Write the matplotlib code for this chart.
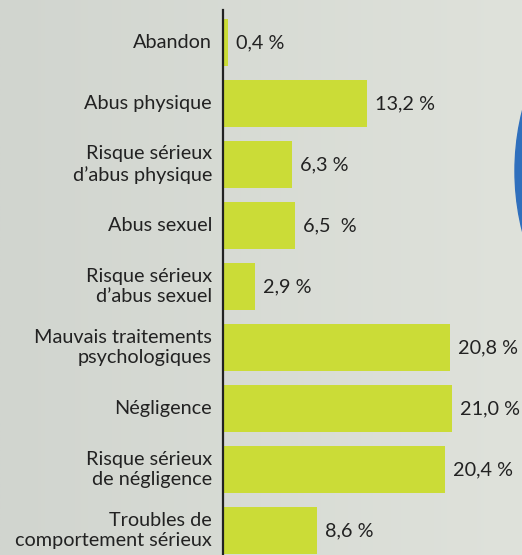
import matplotlib
matplotlib.use("Agg")
import matplotlib.pyplot as plt
import numpy as np
from matplotlib.patches import Ellipse
from matplotlib.colors import LinearSegmentedColormap

categories = ["Abandon", "Abus physique", "Risque sérieux\nd’abus physique", "Abus sexuel",
              "Risque sérieux\nd’abus sexuel", "Mauvais traitements\npsychologiques", "Négligence",
              "Risque sérieux\nde négligence", "Troubles de\ncomportement sérieux"]
values = [0.4, 13.2, 6.3, 6.5, 2.9, 20.8, 21.0, 20.4, 8.6]
value_labels = ["0,4 %", "13,2 %", "6,3 %", "6,5  %", "2,9 %", "20,8 %", "21,0 %", "20,4 %", "8,6 %"]

W, H = 522, 555
fig = plt.figure(figsize=(W / 100, H / 100), dpi=100)

# background gradient
bg = fig.add_axes([0, 0, 1, 1], zorder=-10)
gx = np.linspace(0, 1, 256)
grad = np.tile(gx, (2, 1))
cmap = LinearSegmentedColormap.from_list("bg", ["#d1d5cf", "#dfe2db"])
bg.imshow(grad, aspect="auto", cmap=cmap, extent=[0, 1, 0, 1])
bg.set_axis_off()

# blue arc at right edge
fig.patches.append(Ellipse((763 / W, 1 - 171 / H), 2 * 248 / W, 2 * 248 / H,
                           transform=fig.transFigure, color="#2f6fbd", zorder=-5))

ax = fig.add_axes([224 / W, 0, (W - 224) / W, 545 / H])
ax.patch.set_alpha(0)
y = np.arange(len(categories))
ax.barh(y, values, height=0.77, color="#cbdc37", zorder=2)
ax.set_ylim((555 - 42.5) / 61, (10 - 42.5) / 61)
ax.set_xlim(0, (W - 224) / 10.85)

for s in ["top", "right", "bottom"]:
    ax.spines[s].set_visible(False)
ax.spines["left"].set_linewidth(1.6)
ax.spines["left"].set_color("#222222")
ax.spines["left"].set_position(("outward", 1))
ax.set_xticks([])
ax.set_yticks([])

font = "Lato"
fs = 14.3
for i, (c, v, lab) in enumerate(zip(categories, values, value_labels)):
    ax.annotate(c, xy=(0, i), xycoords="data", xytext=(-12, 0), textcoords="offset pixels",
                ha="right", va="center", fontsize=fs, family=font, color="#222222",
                multialignment="right", linespacing=1.22)
    ax.annotate(lab, xy=(v, i), xycoords="data", xytext=(8, 0), textcoords="offset pixels",
                ha="left", va="center", fontsize=fs, family=font, color="#222222")

fig.savefig("out.png", dpi=100)
